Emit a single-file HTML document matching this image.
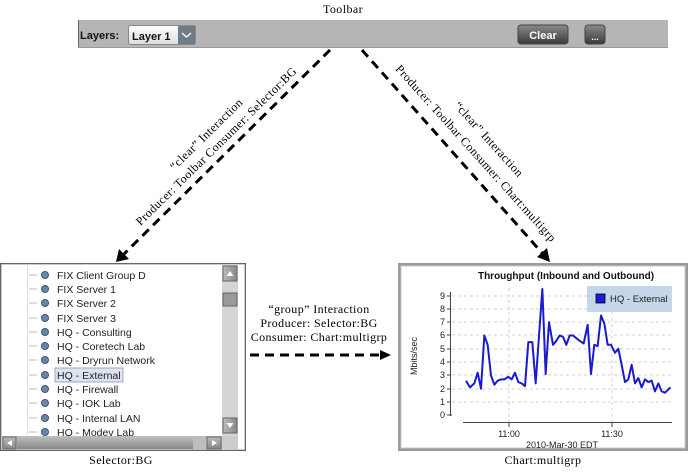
<!DOCTYPE html>
<html><head><meta charset="utf-8"><style>
body{margin:0;background:#fff;}
svg{display:block;}
.s{font-family:"Liberation Serif",serif;font-size:12px;letter-spacing:0.4px;fill:#000;}
.a{font-family:"Liberation Sans",sans-serif;}
</style></head><body>
<svg width="688" height="474" viewBox="0 0 688 474" xmlns="http://www.w3.org/2000/svg">
<defs>
<linearGradient id="btn" x1="0" y1="0" x2="0" y2="1"><stop offset="0" stop-color="#8a8a8a"/><stop offset="1" stop-color="#3a3a3a"/></linearGradient>
<linearGradient id="dd" x1="0" y1="0" x2="0" y2="1"><stop offset="0" stop-color="#fff"/><stop offset="1" stop-color="#ddd"/></linearGradient>
<linearGradient id="sb" x1="0" y1="0" x2="0" y2="1"><stop offset="0" stop-color="#bbb"/><stop offset="1" stop-color="#888"/></linearGradient>
<linearGradient id="sbv" x1="0" y1="0" x2="1" y2="0"><stop offset="0" stop-color="#bbb"/><stop offset="1" stop-color="#888"/></linearGradient>
</defs>
<text class="s" x="343" y="13" text-anchor="middle">Toolbar</text>
<!-- toolbar -->
<rect x="78" y="20" width="590" height="28" fill="#b5b5b5"/>
<line x1="78.5" y1="20" x2="78.5" y2="48" stroke="#666"/>
<line x1="78" y1="47.5" x2="668" y2="47.5" stroke="#999"/>
<text class="a" x="80" y="39" font-size="11" font-weight="bold" fill="#111">Layers:</text>
<rect x="128.5" y="25.5" width="67" height="19" rx="2" fill="url(#dd)" stroke="#888"/>
<text class="a" x="132" y="40" font-size="11" font-weight="bold" fill="#111">Layer 1</text>
<rect x="178" y="26" width="17" height="18" fill="#6f7c8a"/>
<path d="M182 33 L186.5 37 L191 33" stroke="#fff" stroke-width="1.3" fill="none"/>
<rect x="518" y="25" width="50" height="19" rx="3" fill="url(#btn)" stroke="#444"/>
<text class="a" x="543" y="39" font-size="11" font-weight="bold" fill="#fff" text-anchor="middle">Clear</text>
<rect x="585" y="25" width="20" height="19" rx="3" fill="url(#btn)" stroke="#444"/>
<text class="a" x="595" y="40" font-size="9" font-weight="bold" fill="#fff" text-anchor="middle">...</text>
<!-- arrows -->
<g stroke="#000" stroke-width="3" stroke-dasharray="9,6" fill="none">
<line x1="330" y1="50" x2="124" y2="254"/>
<line x1="362" y1="50" x2="543" y2="254"/>
<line x1="250" y1="355" x2="382" y2="355"/>
</g>
<path d="M116 262 L119 249 L129 259 Z" fill="#000"/>
<path d="M550 262 L537 257 L547 248 Z" fill="#000"/>
<path d="M391 355 L380 350 L380 360 Z" fill="#000"/>
<!-- rotated labels -->
<text class="s" transform="translate(209,137) rotate(-44.5)" text-anchor="middle">“clear” Interaction</text>
<text class="s" transform="translate(219,149) rotate(-44.5)" text-anchor="middle">Producer: Toolbar Consumer: Selector:BG</text>
<text class="s" transform="translate(486,142) rotate(48)" text-anchor="middle">“clear” Interaction</text>
<text class="s" transform="translate(473,156) rotate(48)" text-anchor="middle">Producer: Toolbar Consumer: Chart:multigrp</text>
<text class="s" x="319" y="313" text-anchor="middle">“group” Interaction</text>
<text class="s" x="319" y="327" text-anchor="middle">Producer: Selector:BG</text>
<text class="s" x="319" y="341" text-anchor="middle">Consumer: Chart:multigrp</text>
<!-- selector -->
<rect x="0.5" y="263.5" width="245" height="187" fill="#fff" stroke="#333"/>
<rect x="1" y="264" width="244" height="186" fill="none" stroke="#999"/>
<line x1="27.5" y1="265" x2="27.5" y2="435" stroke="#ddd"/>
<g font-family="Liberation Sans,sans-serif" font-size="10.5" fill="#222">
<rect x="55" y="368" width="68" height="14" fill="#dde4ef" stroke="#9aa8bf"/>
<text x="57" y="279">FIX Client Group D</text>
<text x="57" y="293">FIX Server 1</text>
<text x="57" y="307">FIX Server 2</text>
<text x="57" y="322">FIX Server 3</text>
<text x="57" y="336">HQ - Consulting</text>
<text x="57" y="350">HQ - Coretech Lab</text>
<text x="57" y="364">HQ - Dryrun Network</text>
<text x="57" y="379">HQ - External</text>
<text x="57" y="393">HQ - Firewall</text>
<text x="57" y="407">HQ - IOK Lab</text>
<text x="57" y="422">HQ - Internal LAN</text>
<text x="57" y="436">HQ - Modev Lab</text>
</g>
<g stroke="#bbb"><line x1="29" y1="275" x2="37" y2="275"/><line x1="29" y1="289" x2="37" y2="289"/><line x1="29" y1="303" x2="37" y2="303"/><line x1="29" y1="318" x2="37" y2="318"/><line x1="29" y1="332" x2="37" y2="332"/><line x1="29" y1="346" x2="37" y2="346"/><line x1="29" y1="360" x2="37" y2="360"/><line x1="29" y1="375" x2="37" y2="375"/><line x1="29" y1="389" x2="37" y2="389"/><line x1="29" y1="403" x2="37" y2="403"/><line x1="29" y1="418" x2="37" y2="418"/><line x1="29" y1="432" x2="37" y2="432"/></g>
<g fill="#6b85a8" stroke="#3d5678" stroke-width="1"><circle cx="45" cy="275" r="3.5"/><circle cx="45" cy="289" r="3.5"/><circle cx="45" cy="303" r="3.5"/><circle cx="45" cy="318" r="3.5"/><circle cx="45" cy="332" r="3.5"/><circle cx="45" cy="346" r="3.5"/><circle cx="45" cy="360" r="3.5"/><circle cx="45" cy="375" r="3.5"/><circle cx="45" cy="389" r="3.5"/><circle cx="45" cy="403" r="3.5"/><circle cx="45" cy="418" r="3.5"/><circle cx="45" cy="432" r="3.5"/></g>
<!-- v scrollbar -->
<rect x="222" y="265" width="16" height="171" fill="#d4d4d4"/>
<rect x="223" y="266" width="14" height="15" fill="url(#sbv)" stroke="#666"/>
<path d="M226.5 276 L230 271 L233.5 276Z" fill="#fff"/>
<rect x="223" y="293" width="14" height="13" fill="#999" stroke="#666"/>
<rect x="223" y="418" width="14" height="15" fill="url(#sbv)" stroke="#666"/>
<path d="M226.5 423 L230 428 L233.5 423Z" fill="#fff"/>
<!-- h scrollbar -->
<rect x="2" y="436" width="220" height="14" fill="#bdbdbd"/>
<rect x="3" y="437" width="13" height="12" fill="url(#sb)" stroke="#666"/>
<path d="M12 440 L7 443 L12 446Z" fill="#fff"/>
<rect x="17" y="437" width="176" height="12" fill="url(#sb)"/>
<rect x="207" y="437" width="14" height="12" fill="url(#sb)" stroke="#666"/>
<path d="M212 440 L217 443 L212 446Z" fill="#fff"/>
<rect x="222" y="436" width="16" height="14" fill="#ccc"/>
<text class="s" x="121" y="464" text-anchor="middle">Selector:BG</text>
<!-- chart -->
<rect x="398" y="263" width="290" height="188" fill="#9a9a9a"/>
<rect x="401" y="266" width="284" height="182" fill="#fff" stroke="#c8c8c8"/>
<text class="a" x="566" y="279" font-size="10" font-weight="bold" text-anchor="middle" fill="#111">Throughput (Inbound and Outbound)</text>
<g stroke="#d0d0d0" stroke-dasharray="3,3">
<line x1="452" y1="296" x2="672" y2="296"/><line x1="452" y1="309" x2="672" y2="309"/><line x1="452" y1="322" x2="672" y2="322"/><line x1="452" y1="335" x2="672" y2="335"/><line x1="452" y1="349" x2="672" y2="349"/><line x1="452" y1="362" x2="672" y2="362"/><line x1="452" y1="375" x2="672" y2="375"/><line x1="452" y1="389" x2="672" y2="389"/><line x1="452" y1="402" x2="672" y2="402"/>
<line x1="509" y1="288" x2="509" y2="422"/><line x1="612" y1="288" x2="612" y2="422"/>
</g>
<rect x="587" y="286" width="85" height="26" fill="#c5d5ea"/>
<rect x="596" y="294" width="9" height="9" fill="#1a1ad8" stroke="#000" stroke-width="0.8"/>
<text class="a" x="610" y="302" font-size="9.5" fill="#222">HQ - External</text>
<g stroke="#444"><line x1="450.5" y1="292" x2="450.5" y2="416"/><line x1="463" y1="422.5" x2="672" y2="422.5"/>
<line x1="447" y1="296" x2="450" y2="296"/><line x1="447" y1="309" x2="450" y2="309"/><line x1="447" y1="322" x2="450" y2="322"/><line x1="447" y1="335" x2="450" y2="335"/><line x1="447" y1="349" x2="450" y2="349"/><line x1="447" y1="362" x2="450" y2="362"/><line x1="447" y1="375" x2="450" y2="375"/><line x1="447" y1="389" x2="450" y2="389"/><line x1="447" y1="402" x2="450" y2="402"/><line x1="447" y1="415" x2="452" y2="415"/>
<line x1="509" y1="422" x2="509" y2="427"/><line x1="612" y1="422" x2="612" y2="427"/>
</g>
<g font-size="9" fill="#222" text-anchor="end" font-family="Liberation Sans,sans-serif">
<text x="445" y="299">9</text><text x="445" y="312">8</text><text x="445" y="325">7</text><text x="445" y="338">6</text><text x="445" y="352">5</text><text x="445" y="365">4</text><text x="445" y="378">3</text><text x="445" y="392">2</text><text x="445" y="405">1</text><text x="445" y="418">0</text>
</g>
<text transform="translate(417,356) rotate(-90)" font-family="Liberation Sans,sans-serif" font-size="9" fill="#222" text-anchor="middle">Mbits/sec</text>
<text x="509" y="437" font-family="Liberation Sans,sans-serif" font-size="9" fill="#222" text-anchor="middle">11:00</text>
<text x="612" y="437" font-family="Liberation Sans,sans-serif" font-size="9" fill="#222" text-anchor="middle">11:30</text>
<text x="562" y="448" font-family="Liberation Sans,sans-serif" font-size="9" fill="#222" text-anchor="middle">2010-Mar-30 EDT</text>
<polyline transform="translate(395,415.3) scale(0.33333,-13.3)" vector-effect="non-scaling-stroke" fill="none" stroke="#1a1ad0" stroke-width="2" stroke-linejoin="round"
points="213,2.6 225,2.1 238,2.4 248,3.2 258,2.0 268,6.0 278,5.3 288,3.0 298,2.3 308,2.6 318,2.7 328,2.7 340,2.9 350,2.7 360,3.2 370,2.5 380,2.4 390,2.2 400,5.5 412,5.5 422,2.4 442,9.5 452,3.1 462,7.0 474,5.3 484,5.6 494,6.0 504,5.9 514,5.3 524,6.0 534,6.0 544,5.8 554,5.6 566,5.4 578,6.8 588,3.1 598,5.3 608,5.2 618,7.5 628,6.9 638,5.3 648,5.3 660,4.7 670,5.0 680,3.8 690,2.5 700,2.7 710,3.8 720,2.4 730,2.8 740,2.1 750,2.7 760,2.5 770,2.6 780,1.8 790,2.4 800,1.8 810,1.7 826,2.1"/>
<text class="s" x="543" y="464" text-anchor="middle">Chart:multigrp</text>
</svg>
</body></html>
